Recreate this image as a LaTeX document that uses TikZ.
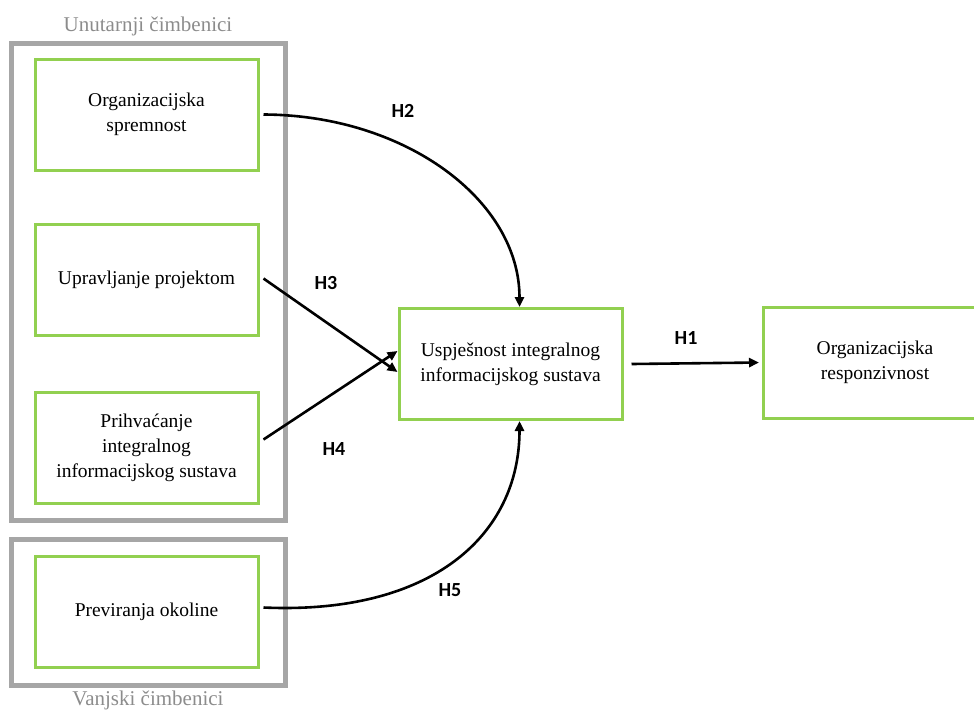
\documentclass[tikz,border=0pt]{standalone}
\usepackage{fontspec}
\setmainfont{Liberation Serif}
\newfontfamily\hfont{Carlito}
\usetikzlibrary{arrows.meta}
\definecolor{grn}{HTML}{92D050}
\definecolor{gry}{HTML}{A6A6A6}
\definecolor{gtxt}{HTML}{8C8C8C}
\begin{document}
\begin{tikzpicture}[x=1pt,y=-1pt,
  grp/.style={draw=gry,line width=5pt},
  gbox/.style={draw=grn,line width=3pt,minimum width=223pt,minimum height=111pt,inner sep=0pt,align=center,font=\fontsize{19.5}{25}\selectfont},
  glabel/.style={text=gtxt,font=\fontsize{21}{24}\selectfont},
  hlab/.style={font=\hfont\bfseries\fontsize{20}{22}\selectfont},
  conn/.style={line width=2.6pt,-{Triangle[length=10pt,width=9pt]}}]
\useasboundingbox (0,0) rectangle (974,713);
\begin{scope}
\clip (0,0) rectangle (974,713);
% groups
\node[grp,minimum width=274pt,minimum height=477pt,inner sep=0pt] (gin) at (148,281.5) {};
\node[grp,minimum width=274pt,minimum height=146pt,inner sep=0pt] (gout) at (148,612) {};
\node[glabel] (lin) at (148,26) {Unutarnji čimbenici};
\node[glabel] (lout) at (148,700) {Vanjski čimbenici};
% boxes
\node[gbox] (a) at (146.5,114.5) {Organizacijska\\spremnost};
\node[gbox] (b) at (146.5,279.5) {Upravljanje projektom};
\node[gbox] (c) at (146.5,447.5) {Prihvaćanje\\integralnog\\informacijskog sustava};
\node[gbox] (d) at (146.5,611.5) {Previranja okoline};
\node[gbox] (e) at (510.5,364) {Uspješnost integralnog\\informacijskog sustava};
\node[gbox] (f) at (875,362.5) {Organizacijska\\responzivnost};
% connectors
\coordinate (a1) at ([xshift=4pt]a.east);
\coordinate (b1) at ([xshift=4pt,yshift=1pt]b.east);
\coordinate (c1) at ([xshift=4pt,yshift=8pt]c.east);
\coordinate (d1) at ([xshift=4pt,yshift=4pt]d.east);
\coordinate (e2) at ([xshift=9pt]e.north);
\coordinate (e3) at ([yshift=-8pt]e.west);
\coordinate (e4) at ([yshift=13pt]e.west);
\coordinate (e5) at ([xshift=9pt]e.south);
\draw[conn] (a1) .. controls (405,115) and (519.5,200) .. (e2);
\draw[conn] (b1) -- (e3);
\draw[conn] (c1) -- (e4);
\draw[conn] (d1) .. controls (432,615) and (519.5,535) .. (e5);
\draw[conn] ([xshift=8pt]e.east) -- ([xshift=-3pt]f.west);
% labels
\node[hlab] (h1) at (686,338) {H1};
\node[hlab] (h2) at (403,111) {H2};
\node[hlab] (h3) at (326,283) {H3};
\node[hlab] (h4) at (334,449) {H4};
\node[hlab] (h5) at (450,590) {H5};
\end{scope}
\end{tikzpicture}
\end{document}
